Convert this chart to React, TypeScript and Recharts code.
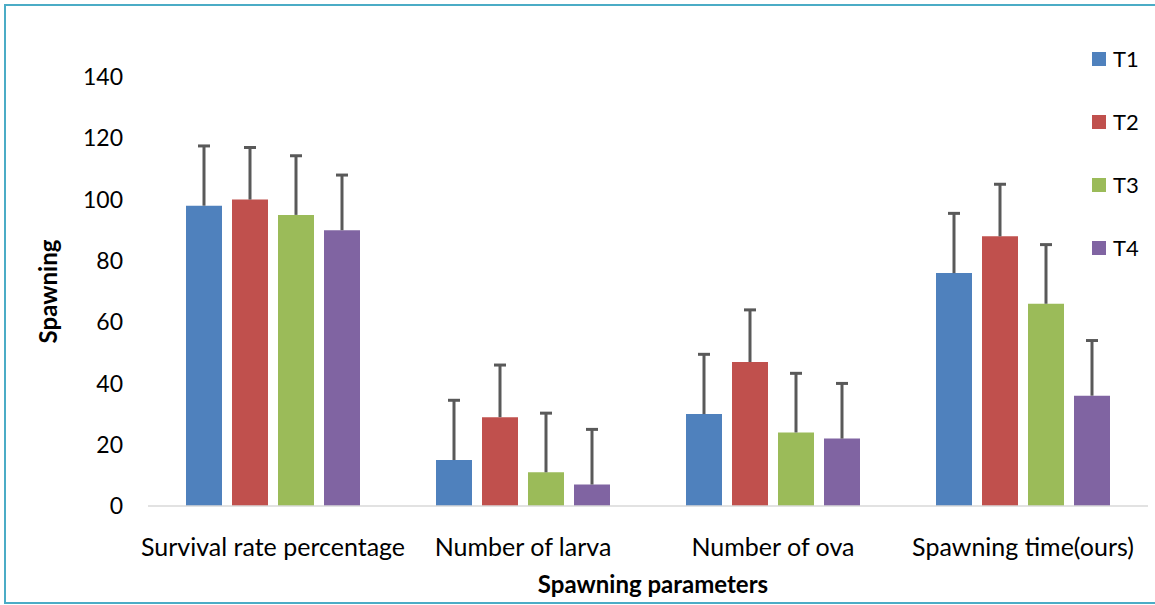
import React from 'react';
import { BarChart, Bar, XAxis, YAxis, Legend } from 'recharts';

const categories = ['Survival rate percentage', 'Number of larva', 'Number of ova', 'Spawning time(ours)'];
const seriesNames = ['T1', 'T2', 'T3', 'T4'];
const seriesColors = ['#4F81BD', '#C0504D', '#9BBB59', '#8064A2'];
const t1 = [98, 15, 30, 76];
const t2 = [100, 29, 47, 88];
const t3 = [95, 11, 24, 66];
const t4 = [90, 7, 22, 36];
const t1Err = [19.5, 19.5, 19.5, 19.5];
const t2Err = [17, 17, 17, 17];
const t3Err = [19.3, 19.3, 19.3, 19.3];
const t4Err = [18, 18, 18, 18];
const yTicks = [0, 20, 40, 60, 80, 100, 120, 140];

const values = [t1, t2, t3, t4];
const errors = [t1Err, t2Err, t3Err, t4Err];

const data = categories.map((c, i) => {
  const row: any = { cat: c };
  seriesNames.forEach((s, k) => {
    row[s] = values[k][i];
    row[s + 'e'] = errors[k][i];
  });
  return row;
});

const FONT = 'Lato, "DejaVu Sans", sans-serif';

const Whisker = (props: any) => {
  const { x, y, width, height } = props;
  if (height == null || width == null) return null;
  const cx = x + width / 2;
  return (
    <g>
      <line x1={cx} x2={cx} y1={y} y2={y + height} stroke="#595959" strokeWidth={3} />
      <line x1={cx - 6} x2={cx + 6} y1={y} y2={y} stroke="#595959" strokeWidth={3} />
    </g>
  );
};

const LegendContent = () => (
  <div style={{ fontFamily: FONT, fontSize: 22, color: '#000' }}>
    {seriesNames.map((s, i) => (
      <div key={s} style={{ display: 'flex', alignItems: 'center', height: 63 }}>
        <div style={{ width: 14, height: 14, background: seriesColors[i], marginRight: 7 }} />
        <span>{s}</span>
      </div>
    ))}
  </div>
);

export default function App() {
  return (
    <div style={{ position: 'absolute', left: 0, top: 0, width: 1155, height: 605, background: '#fff', overflow: 'hidden' }}>
      <div
        style={{
          position: 'absolute',
          left: 4,
          top: 4,
          width: 1170,
          height: 600,
          boxSizing: 'border-box',
          border: '2.5px solid #4BACC6',
        }}
      />
      <div style={{ position: 'absolute', left: 0, top: 0 }}>
        <BarChart
          width={1155}
          height={605}
          data={data}
          margin={{ top: 77, right: 7, bottom: 0, left: 0 }}
          barCategoryGap={38}
          barGap={10}
        >
          <XAxis
            dataKey="cat"
            height={99}
            tickLine={false}
            tickSize={0}
            tickMargin={32}
            axisLine={{ stroke: '#D9D9D9', strokeWidth: 1.5 }}
            tick={{ fontFamily: FONT, fontSize: 25, fill: '#000' }}
            label={{
              value: 'Spawning parameters',
              position: 'insideBottom',
              offset: 12,
              dx: 5,
              style: { fontFamily: FONT, fontSize: 24, fontWeight: 700, fill: '#000' },
            }}
          />
          <YAxis
            width={148}
            domain={[0, 140]}
            ticks={yTicks}
            axisLine={false}
            tickLine={false}
            tickSize={0}
            tickMargin={25}
            tick={{ fontFamily: FONT, fontSize: 23, fill: '#000' }}
            label={{
              value: 'Spawning',
              angle: -90,
              position: 'insideLeft',
              offset: 48,
              style: { fontFamily: FONT, fontSize: 24, fontWeight: 700, fill: '#000', textAnchor: 'middle' },
            }}
          />
          <Legend
            layout="vertical"
            align="center"
            verticalAlign="middle"
            content={<LegendContent />}
            wrapperStyle={{ left: 1092, top: 27, width: 60, height: 260 }}
          />
          {seriesNames.map((s, i) => [
            <Bar key={s} dataKey={s} stackId={'s' + i} fill={seriesColors[i]} isAnimationActive={false} />,
            <Bar
              key={s + 'e'}
              dataKey={s + 'e'}
              stackId={'s' + i}
              fill="none"
              legendType="none"
              shape={<Whisker />}
              isAnimationActive={false}
            />,
          ])}
        </BarChart>
      </div>
    </div>
  );
}
